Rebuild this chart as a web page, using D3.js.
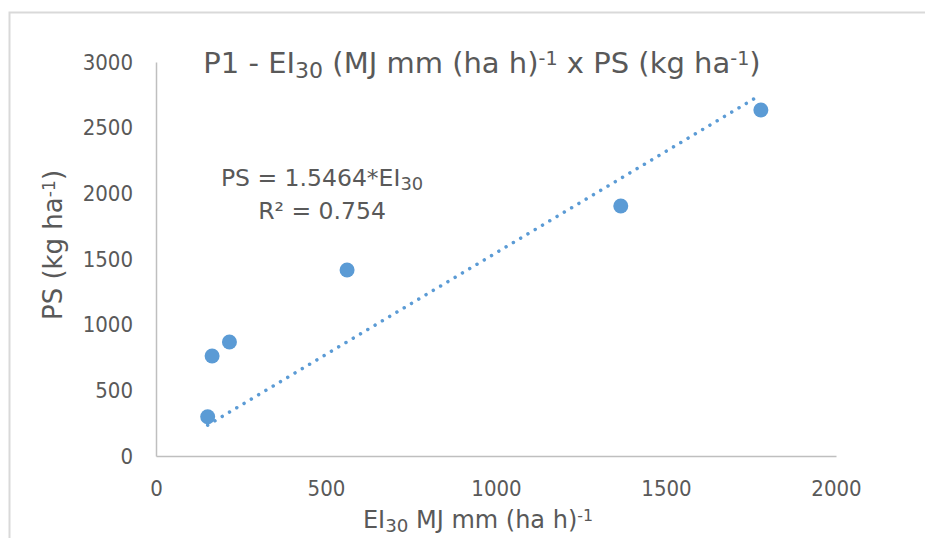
<!DOCTYPE html>
<html>
<head>
<meta charset="utf-8">
<script src="https://cdn.jsdelivr.net/npm/d3@7"></script>
<style>
  html, body { margin: 0; padding: 0; background: #fff; }
  svg text { font-family: "DejaVu Sans", sans-serif; fill: #595959; }
  svg .tick text { font-family: "DejaVu Sans Condensed", "DejaVu Sans", sans-serif; }
</style>
</head>
<body>
<svg id="chart" width="925" height="538"></svg>
<script>
// EI30 (MJ mm (ha h)^-1) and soil loss PS (kg ha^-1) for plot P1
const ei30 = [152, 165, 216, 562, 1367, 1779];
const ps = [299, 761, 868, 1416, 1904, 2635];
const slope = 1.5464;
const r2 = "0.754";
const xTicks = [0, 500, 1000, 1500, 2000];
const yTicks = [0, 500, 1000, 1500, 2000, 2500, 3000];

const blue = "#5b9bd5";
const svg = d3.select("#chart");

// outer chart frame
svg.append("rect")
  .attr("x", 9.5).attr("y", 12.5)
  .attr("width", 940).attr("height", 540)
  .attr("fill", "none").attr("stroke", "#d9d9d9").attr("stroke-width", 2);

const x = d3.scaleLinear().domain([0, 2000]).range([156, 836]);
const y = d3.scaleLinear().domain([0, 3000]).range([456, 62]);

// axes
const xAxis = svg.append("g").attr("transform", `translate(0,${y(0)})`)
  .call(d3.axisBottom(x).tickValues(xTicks).tickSize(0).tickPadding(24).tickFormat(d3.format("d")));
const yAxis = svg.append("g").attr("transform", `translate(${x(0)},0)`)
  .call(d3.axisLeft(y).tickValues(yTicks).tickSize(0).tickPadding(23).tickFormat(d3.format("d")));
[xAxis, yAxis].forEach(g => {
  g.select(".domain").attr("stroke", "#bfbfbf").attr("stroke-width", 1.5);
  g.selectAll("text").style("font-size", "22px").attr("fill", "#595959");
});

// linear trend through the origin, dotted with a dot on each end
const x0 = d3.min(ei30), x1 = d3.max(ei30);
const tx1 = x(x0), ty1 = y(slope * x0), tx2 = x(x1), ty2 = y(slope * x1);
const len = Math.hypot(tx2 - tx1, ty2 - ty1);
const gap = len / Math.round(len / 8.5);
svg.append("line")
  .attr("x1", tx1).attr("y1", ty1)
  .attr("x2", tx2).attr("y2", ty2)
  .attr("stroke", blue).attr("stroke-width", 3.5)
  .attr("stroke-linecap", "round").attr("stroke-dasharray", `0.01 ${gap - 0.01}`);

// observations
svg.append("g").selectAll("circle")
  .data(ei30.map((v, i) => [v, ps[i]]))
  .join("circle")
  .attr("cx", d => x(d[0])).attr("cy", d => y(d[1]))
  .attr("r", 7.5).attr("fill", blue);

// helper for text with sub/superscripts
function rich(sel, parts) {
  parts.forEach(p => {
    const t = sel.append("tspan").text(p.t);
    if (p.sub) t.attr("baseline-shift", "-22%").style("font-size", "76%");
    if (p.sup) t.attr("baseline-shift", "42%").style("font-size", "66%");
  });
  return sel;
}

// title
rich(svg.append("text").attr("x", 482).attr("y", 73).attr("text-anchor", "middle").style("font-size", "29px"),
  [{t: "P1 - EI"}, {t: "30", sub: true}, {t: " (MJ mm (ha h)"}, {t: "-1", sup: true},
   {t: " x PS (kg ha"}, {t: "-1", sup: true}, {t: ")"}]);

// axis titles
rich(svg.append("text").attr("x", 478).attr("y", 528).attr("text-anchor", "middle").style("font-size", "24px"),
  [{t: "EI"}, {t: "30", sub: true}, {t: " MJ mm (ha h)"}, {t: "-1", sup: true}]);
rich(svg.append("text").attr("transform", "translate(62,245) rotate(-90)").attr("text-anchor", "middle").style("font-size", "26px"),
  [{t: "PS (kg ha"}, {t: "-1", sup: true}, {t: ")"}]);

// trendline equation
rich(svg.append("text").attr("x", 322).attr("y", 186).attr("text-anchor", "middle").style("font-size", "23.5px"),
  [{t: "PS = " + slope + "*EI"}, {t: "30", sub: true}]);
svg.append("text").attr("x", 322).attr("y", 219).attr("text-anchor", "middle").style("font-size", "23.5px")
  .text("R² = " + r2);
</script>
</body>
</html>
